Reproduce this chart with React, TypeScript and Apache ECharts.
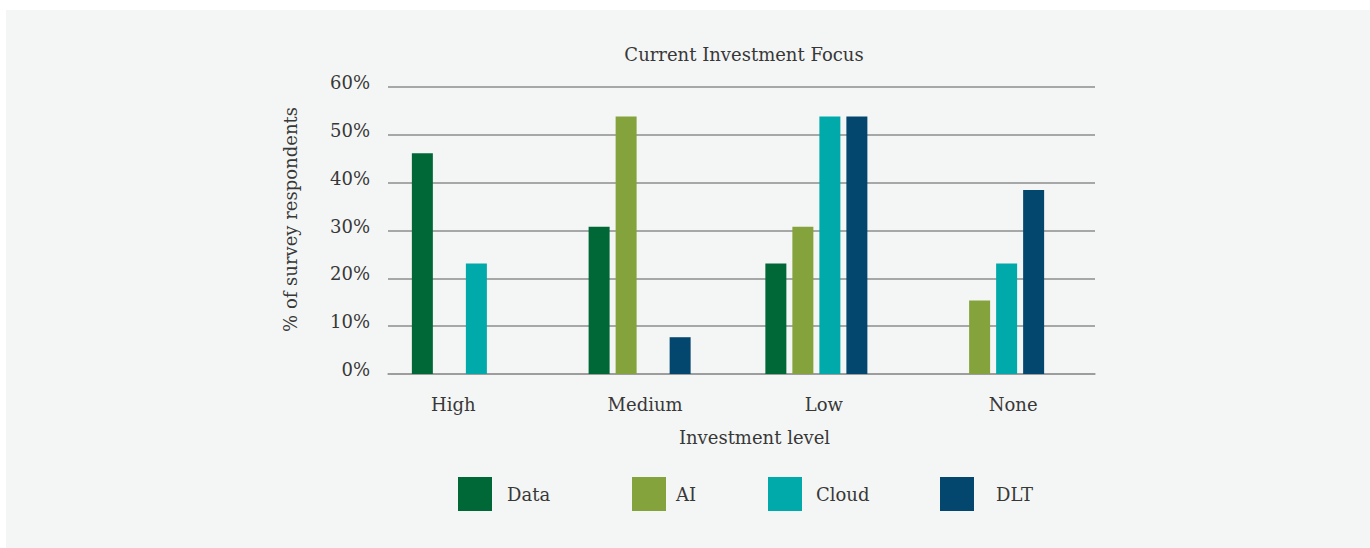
import React, { useEffect, useRef } from "react";
import * as echarts from "echarts";

const categories = ["High", "Medium", "Low", "None"];
const dataValues = [46.15, 30.77, 23.08, 0];
const aiValues = [0, 53.85, 30.77, 15.38];
const cloudValues = [23.08, 0, 53.85, 23.08];
const dltValues = [0, 7.69, 53.85, 38.46];
const blankValues = [null, null, null, null];
const seriesNames = ["Data", "AI", "Cloud", "DLT"];
const seriesColors = ["#006837", "#85a33c", "#00a9aa", "#03476f"];
const yTicks = [0, 10, 20, 30, 40, 50, 60];

const FONT = "DejaVu Serif";
const TXT = "#383838";

export default function App() {
  const ref = useRef<HTMLDivElement>(null);
  useEffect(() => {
    if (!ref.current) return;
    const chart = echarts.init(ref.current, null, { renderer: "svg" });
    const values = [dataValues, aiValues, cloudValues, dltValues];
    const labelShift: Record<string, number[]> = {
      High: [0, 46, 0, 0],
      Medium: [0, 16, 0, 0],
      Low: [0, 12, 0, 0],
      None: [0, 0, 0, 13],
    };
    const rich: any = {};
    categories.forEach((c, i) => {
      rich["c" + i] = { fontFamily: FONT, fontSize: 18, color: TXT, padding: labelShift[c] };
    });
    const legendLefts = [458, 632, 768, 940];
    const legendGaps = [15, 10, 14, 22];
    chart.setOption({
      animation: false,
      backgroundColor: "transparent",
      title: {
        text: "Current Investment Focus",
        left: 744,
        textAlign: "center",
        top: 45,
        padding: 0,
        textStyle: { fontFamily: FONT, fontSize: 18, fontWeight: "normal", color: TXT },
      },
      legend: seriesNames.map((n, i) => ({
        data: [n],
        left: legendLefts[i],
        top: 477,
        padding: 0,
        icon: "rect",
        itemWidth: 34,
        itemHeight: 34,
        itemGap: 0,
        selectedMode: false,
        textStyle: { fontFamily: FONT, fontSize: 18, color: TXT, padding: [0, 0, 0, legendGaps[i] - 5] },
      })),
      grid: { left: 388, right: 275, top: 87, bottom: 174, containLabel: false },
      xAxis: {
        type: "category",
        data: categories,
        name: "Investment level",
        nameLocation: "middle",
        nameGap: 54,
        nameTextStyle: { fontFamily: FONT, fontSize: 18, color: TXT, padding: [0, 0, 0, 26] },
        axisLine: { show: true, lineStyle: { color: "#9a9a9a", width: 1.5 } },
        axisTick: { show: false },
        axisLabel: {
          margin: 21,
          formatter: (v: string) => `{c${categories.indexOf(v)}|${v}}`,
          rich,
        },
      },
      yAxis: {
        type: "value",
        min: yTicks[0],
        max: yTicks[yTicks.length - 1],
        interval: 10,
        name: "% of survey respondents",
        nameLocation: "middle",
        nameGap: 89,
        nameRotate: 90,
        nameTextStyle: { fontFamily: FONT, fontSize: 18, color: TXT, padding: [0, 0, 0, 22] },
        axisLine: { show: false },
        axisTick: { show: false },
        axisLabel: {
          margin: 18,
          formatter: (v: number) => `{t|${v}%}`,
          rich: {
            t: { fontFamily: FONT, fontSize: 18, color: TXT, padding: [0, 0, 9, 0] },
          },
        },
        splitLine: { show: true, lineStyle: { color: "#8c8c8c", width: 1.5 } },
      },
      series: [
        ...seriesNames.map((n, i) => ({
          name: n,
          type: "bar",
          data: values[i],
          barWidth: 21,
          barGap: "28.6%",
          itemStyle: { color: seriesColors[i] },
        })),
        {
          name: "blank",
          type: "bar",
          data: blankValues,
          barWidth: 21,
          barGap: "28.6%",
          itemStyle: { color: "transparent" },
        },
      ],
    });
    return () => chart.dispose();
  }, []);
  return (
    <div style={{ position: "fixed", left: 0, top: 0, width: 1370, height: 548, background: "#ffffff" }}>
      <div style={{ position: "absolute", left: 6, top: 10, right: 0, bottom: 0, background: "#f4f6f5" }} />
      <div ref={ref} style={{ position: "absolute", left: 0, top: 0, width: 1370, height: 548 }} />
    </div>
  );
}
